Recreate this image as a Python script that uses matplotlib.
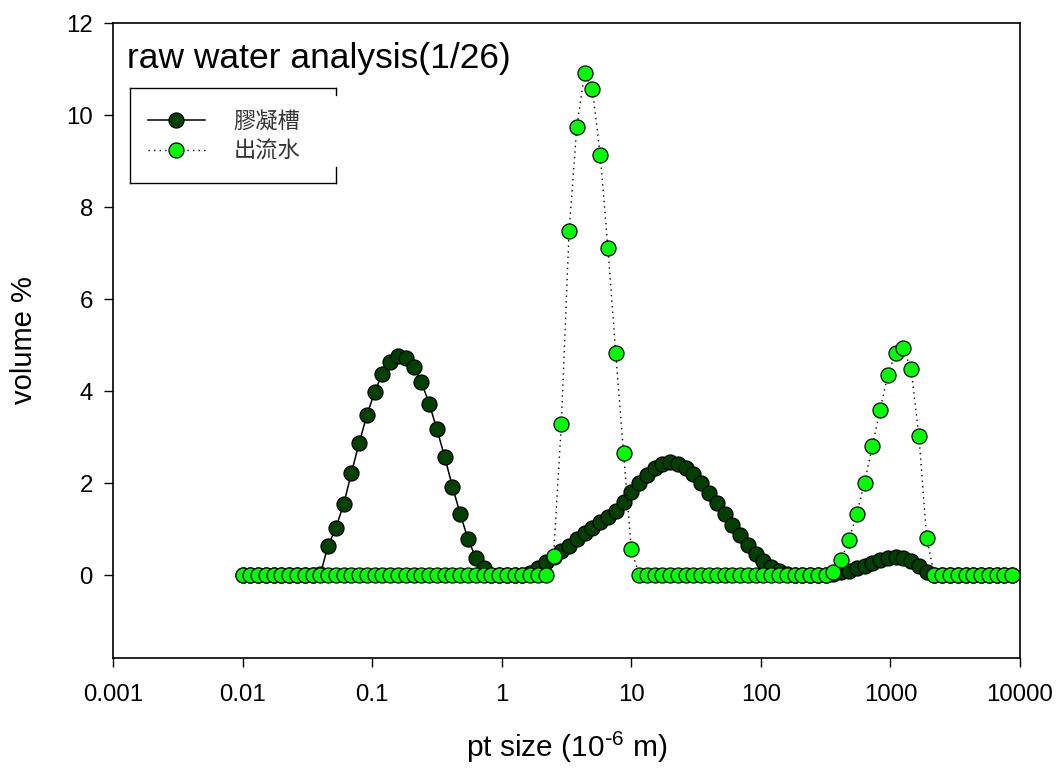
import matplotlib
matplotlib.use('Agg')
import matplotlib.pyplot as plt

plt.rcParams['font.family'] = ['Liberation Sans', 'Noto Sans CJK TC', 'DejaVu Sans']
plt.rcParams['mathtext.default'] = 'regular'

# size classes (um)
size_um = [0.01, 0.01148, 0.01318, 0.01514, 0.01738, 0.01995, 0.02291, 0.0263, 0.0302, 0.03467,
           0.03981, 0.04571, 0.05248, 0.06026, 0.06918, 0.07943, 0.0912, 0.1047, 0.1202, 0.138,
           0.1585, 0.182, 0.2089, 0.2399, 0.2754, 0.3162, 0.3631, 0.4169, 0.4786, 0.5495,
           0.631, 0.7244, 0.8318, 0.955, 1.096, 1.259, 1.445, 1.66, 1.905, 2.188,
           2.512, 2.884, 3.311, 3.802, 4.365, 5.012, 5.754, 6.607, 7.586, 8.71,
           10.0, 11.48, 13.18, 15.14, 17.38, 19.95, 22.91, 26.3, 30.2, 34.67,
           39.81, 45.71, 52.48, 60.26, 69.18, 79.43, 91.2, 104.7, 120.2, 138.0,
           158.5, 182.0, 208.9, 239.9, 275.4, 316.2, 363.1, 416.9, 478.6, 549.5,
           631.0, 724.4, 831.8, 955.0, 1096, 1259, 1445, 1660, 1905, 2188,
           2512, 2884, 3311, 3802, 4365, 5012, 5754, 6607, 7586, 8710]

# 膠凝槽
vol_tank = ([0.0] * 10 +
            [0.02, 0.64, 1.03, 1.54, 2.22, 2.88, 3.48, 3.99, 4.38, 4.64,
             4.76, 4.72, 4.53, 4.20, 3.73, 3.17, 2.57, 1.92, 1.33, 0.78,
             0.38, 0.15] +
            [0.0] * 5 +
            [0.05, 0.15, 0.28, 0.40, 0.53, 0.64, 0.78, 0.91, 1.03, 1.15,
             1.27, 1.40, 1.58, 1.80, 2.00, 2.18, 2.33, 2.42, 2.45, 2.42,
             2.34, 2.20, 2.00, 1.78, 1.56, 1.33, 1.10, 0.87, 0.66, 0.47,
             0.31, 0.18, 0.08, 0.02] +
            [0.0] * 5 +
            [0.03, 0.06, 0.10, 0.15, 0.21, 0.27, 0.33, 0.37, 0.39, 0.37,
             0.31, 0.19, 0.06] +
            [0.0] * 11)

# 出流水
vol_effluent = ([0.0] * 40 +
                [0.41, 3.28, 7.48, 9.75, 10.92, 10.56, 9.14, 7.10, 4.83, 2.66, 0.57] +
                [0.0] * 25 +
                [0.06, 0.34, 0.76, 1.33, 2.01, 2.80, 3.60, 4.35, 4.83, 4.94,
                 4.47, 3.02, 0.80] +
                [0.0] * 11)

xticks = [0.001, 0.01, 0.1, 1, 10, 100, 1000, 10000]
xtick_labels = ['0.001', '0.01', '0.1', '1', '10', '100', '1000', '10000']
yticks = [0, 2, 4, 6, 8, 10, 12]

fig = plt.figure(figsize=(10.6, 7.69), dpi=100)
ax = fig.add_axes([113 / 1060, 111 / 769, 907 / 1060, 635 / 769])

ax.plot(size_um, vol_tank, color='black', lw=1.1, ls='-', marker='o', ms=10.8,
        mfc='#004000', mec='black', mew=0.9, label='膠凝槽', zorder=3)
ax.plot(size_um, vol_effluent, color='black', lw=1.0, ls=(0, (1, 3)), marker='o', ms=10.8,
        mfc='#00ff00', mec='black', mew=0.9, label='出流水', zorder=4)

ax.set_xscale('log')
ax.set_xlim(0.001, 10000)
ax.set_ylim(-1.8, 12)
ax.set_xticks(xticks)
ax.set_xticklabels(xtick_labels)
ax.xaxis.set_minor_locator(matplotlib.ticker.NullLocator())
ax.set_yticks(yticks)
ax.tick_params(direction='out', length=6.5, width=1, labelsize=17.3, pad=8)
ax.tick_params(axis='x', pad=12)
for sp in ax.spines.values():
    sp.set_linewidth(1.2)

ax.set_xlabel(r'pt size (10$^{\text{-}6}$ m)', fontsize=21.5, labelpad=17)
ax.set_ylabel('volume %', fontsize=21, labelpad=20)

ax.text(0.0154, 0.929, 'raw water analysis(1/26)', transform=ax.transAxes,
        fontsize=25.5, ha='left', va='baseline')

# legend box (open on the right side)
bl, br, bt, bb = 0.01874, 0.2459, 0.8976, 0.748
kw = dict(transform=ax.transAxes, color='black', lw=1.0, clip_on=False)
ax.plot([bl, br], [bt, bt], **kw)
ax.plot([bl, br], [bb, bb], **kw)
ax.plot([bl, bl], [bb, bt], **kw)
ax.plot([br, br], [bt, 0.8866], **kw)
ax.plot([br, br], [bb, 0.7732], **kw)

leg = ax.legend(loc='upper left', bbox_to_anchor=(0.0386, 0.863), frameon=False,
                borderpad=0, borderaxespad=0, handlelength=2.55, handletextpad=1.3,
                labelspacing=0.3, prop={'family': ['Noto Sans CJK TC'], 'size': 16})
for t in leg.get_texts():
    t.set_color('#333333')

fig.savefig('out.png', dpi=100)
plt.close(fig)
